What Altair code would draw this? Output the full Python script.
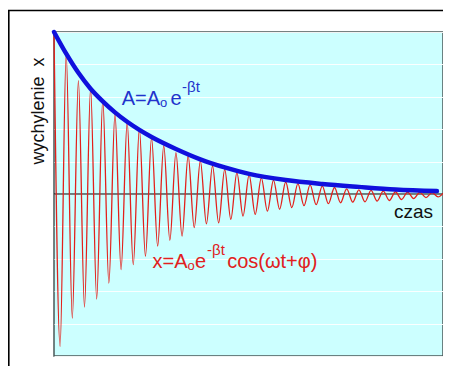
import altair as alt
import pandas as pd

# --- data (time in oscillation periods, displacement in grid units) ---
peak_t = [0, 1, 2, 3, 4, 5, 6, 7, 8, 9, 10, 11, 12, 13, 14, 15,
          16, 17, 18, 19, 20, 21, 22, 23, 24, 25, 26, 27, 28, 29, 30, 31]
peak_x = [5.0, 4.33, 3.5, 3.27, 2.91, 2.47, 2.21, 2.02, 1.74, 1.49, 1.28, 1.18, 1.02, 0.87, 0.76, 0.66,
          0.59, 0.50, 0.43, 0.37, 0.32, 0.28, 0.24, 0.20, 0.16, 0.13, 0.11, 0.09, 0.07, 0.06, 0.05, 0.04]
trough_t = [0.5, 1.5, 2.5, 3.5, 4.5, 5.5, 6.5, 7.5, 8.5, 9.5, 10.5, 11.5, 12.5, 13.5, 14.5, 15.5,
            16.5, 17.5, 18.5, 19.5, 20.5, 21.5, 22.5, 23.5, 24.5, 25.5, 26.5, 27.5, 28.5, 29.5, 30.5, 31.5]
trough_x = [-4.7, -3.83, -3.49, -3.24, -2.75, -2.33, -2.18, -1.92, -1.61, -1.43, -1.30, -1.04, -0.92, -0.89, -0.78, -0.68,
            -0.63, -0.53, -0.47, -0.42, -0.36, -0.33, -0.30, -0.27, -0.25, -0.24, -0.22, -0.20, -0.17, -0.14, -0.11, -0.09]
end_t = [31.9]
end_x = [0.02]

env_t = [0, 1, 2, 3, 4, 5, 6, 7, 8, 10, 12, 14, 16, 19, 22, 25, 28, 31.4]
env_x = [5.0, 4.33, 3.74, 3.25, 2.86, 2.52, 2.23, 1.98, 1.76, 1.39, 1.07, 0.82, 0.62, 0.43, 0.31, 0.22, 0.14, 0.09]

# annotation pieces: text, anchor time, anchor displacement, font size, colour
ann_text = ["A=A", "o", "e", "-\u03b2t",
            "x=A", "o", "e", "-\u03b2t", "cos(\u03c9t+\u03c6)"]
ann_t = [5.55, 8.69, 9.55, 10.5,
         8.08, 10.95, 11.56, 12.55, 14.2]
ann_x = [2.76, 2.69, 2.76, 3.15,
         -2.27, -2.35, -2.27, -1.88, -2.27]
ann_size = [20, 13, 20, 15,
            20, 13, 20, 15, 20]
ann_col = ["#2233cc"] * 4 + ["#e02020"] * 5

label_t = [31.08]
label_x = [-0.74]
label_text = ["czas"]

# --- tables ---
red = pd.DataFrame({"t": peak_t + trough_t + end_t, "x": peak_x + trough_x + end_x}).sort_values("t")
env = pd.DataFrame({"t": env_t, "x": env_x})
ann = pd.DataFrame({"t": ann_t, "x": ann_x, "txt": ann_text, "fs": ann_size, "col": ann_col})
lab = pd.DataFrame({"t": label_t, "x": label_x, "txt": label_text})
zero = pd.DataFrame({"x": [0]})
one = pd.DataFrame({"a": [0]})

xs = alt.Scale(domain=[0, 31.9], nice=False, zero=False)
ys = alt.Scale(domain=[-5, 5], nice=False)
y_axis = alt.Axis(values=list(range(-5, 6)), grid=True, gridColor="white", gridOpacity=0.9,
                  gridWidth=1, ticks=False, labels=False, domain=False, title=None)


def X():
    return alt.X("t:Q", scale=xs, axis=None)


def Y():
    return alt.Y("x:Q", scale=ys, axis=y_axis)


zero_line = alt.Chart(zero).mark_rule(color="black", strokeWidth=1).encode(y=Y())

red_line = alt.Chart(red).mark_line(color="#e3201b", strokeWidth=1.3, interpolate="monotone").encode(
    x=X(), y=Y())

blue_line = alt.Chart(env).mark_line(color="#1010dd", strokeWidth=4.5, interpolate="monotone",
                                     strokeCap="round").encode(x=X(), y=Y())

ann_layer = alt.Chart(ann).mark_text(align="left", baseline="alphabetic", font="Liberation Sans").encode(
    x=X(), y=Y(), text="txt:N",
    size=alt.Size("fs:Q", scale=None, legend=None),
    color=alt.Color("col:N", scale=None, legend=None))

lab_layer = alt.Chart(lab).mark_text(align="right", baseline="alphabetic", font="Liberation Sans",
                                     fontSize=19, color="#111111").encode(x=X(), y=Y(), text="txt:N")

ytitle = alt.Chart(one).mark_text(angle=270, align="center", baseline="middle", font="Liberation Sans",
                                  fontSize=18, color="#111111", text="wychylenie\u00a0 x").encode(
    x=alt.value(-15), y=alt.value(79))

frame_left = alt.Chart(one).mark_rule(color="black", strokeWidth=1.6).encode(
    x=alt.value(-45.2), y=alt.value(-22), y2=alt.value(340))
frame_top = alt.Chart(one).mark_rule(color="black", strokeWidth=1.6).encode(
    x=alt.value(-46), x2=alt.value(400), y=alt.value(-21.5))

chart = alt.layer(zero_line, red_line, blue_line, ann_layer, lab_layer, ytitle, frame_left, frame_top).properties(
    width=389, height=324,
    autosize=alt.AutoSizeParams(type="none"),
    padding={"left": 46, "top": 24, "right": 0, "bottom": 10},
    background="white",
).configure_view(fill="#ccffff", stroke="#4a5858", strokeWidth=1.5)

chart.save("out.html", embed_options={"renderer": "svg", "actions": False})
